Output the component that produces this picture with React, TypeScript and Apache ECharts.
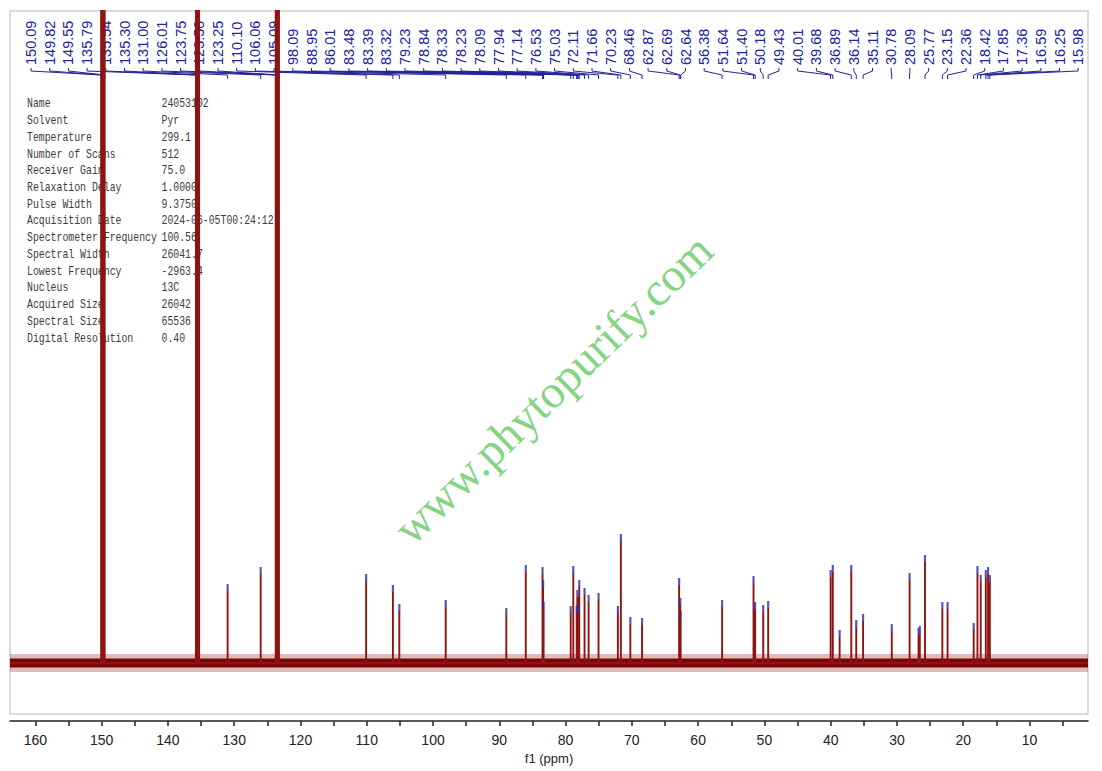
import React, { useEffect, useRef } from "react";
import * as echarts from "echarts";

// Picked 13C peaks (ppm) and their heights (px-scale intensity above baseline; solvent peaks run off-scale)
const PEAK_PPM = [
  150.09, 149.82, 149.55, 135.79, 135.54, 135.3, 131.0, 126.01, 123.75, 123.5, 123.25,
  110.1, 106.06, 105.09, 98.09, 88.95, 86.01, 83.48, 83.39, 83.32, 79.23, 78.84, 78.33,
  78.23, 78.09, 77.94, 77.14, 76.53, 75.03, 72.11, 71.66, 70.23, 68.46, 62.87, 62.69,
  62.64, 56.38, 51.64, 51.4, 50.18, 49.43, 40.01, 39.68, 36.89, 36.14, 35.11, 30.78,
  28.09, 25.77, 23.15, 22.36, 18.42, 17.85, 17.36, 16.59, 16.25, 15.98,
];
const PEAK_HEIGHT = [
  5000, 5000, 5000, 5000, 5000, 5000, 72, 89, 5000, 5000, 5000,
  82, 71, 52, 56, 48, 91, 89, 76, 54, 50, 90, 50,
  66, 50, 76, 68, 61, 63, 50, 122, 39, 38, 78, 58,
  45, 56, 80, 54, 51, 55, 86, 91, 91, 36, 42, 32,
  83, 101, 54, 54, 33, 90, 81, 86, 89, 81,
];
// Small picked peaks without a printed label
const EXTRA_PPM = [38.65, 26.74, 26.55];
const EXTRA_HEIGHT = [26, 28, 30];

const PARAM_NAMES = [
  "Name", "Solvent", "Temperature", "Number of Scans", "Receiver Gain", "Relaxation Delay",
  "Pulse Width", "Acquisition Date", "Spectrometer Frequency", "Spectral Width",
  "Lowest Frequency", "Nucleus", "Acquired Size", "Spectral Size", "Digital Resolution",
];
const PARAM_VALUES = [
  "24053102", "Pyr", "299.1", "512", "75.0", "1.0000", "9.3750", "2024-06-05T00:24:12",
  "100.56", "26041.7", "-2963.4", "13C", "26042", "65536", "0.40",
];

const PPM_LEFT = 163.84;
const PPM_RIGHT = 1.17;
const TICK_MIN = 5;
const TICK_MAX = 160;
const TICK_STEP = 5;

const App: React.FC = () => {
  const ref = useRef<HTMLDivElement>(null);

  useEffect(() => {
    if (!ref.current) return;
    const chart = echarts.init(ref.current, null, { renderer: "svg" });

    const peaks: number[][] = PEAK_PPM.map((p, i) => [p, PEAK_HEIGHT[i]])
      .concat(EXTRA_PPM.map((p, i) => [p, EXTRA_HEIGHT[i]]))
      .sort((a, b) => b[0] - a[0]);

    const spectrum: number[][] = [[PPM_LEFT, 0]];
    peaks.forEach(([p, h]) => {
      spectrum.push([p, 0], [p, h], [p, 0]);
    });
    spectrum.push([PPM_RIGHT, 0]);

    const markers = peaks.filter(([, h]) => h < 1000);

    chart.setOption({
      animation: false,
      backgroundColor: "#ffffff",
      grid: [
        { left: 10, right: 14, top: 11, bottom: 50 },
        { left: 35.43, right: 39.4, top: 11, bottom: 50 },
      ],
      xAxis: [
        {
          gridIndex: 0,
          type: "value",
          inverse: true,
          min: PPM_RIGHT,
          max: PPM_LEFT,
          axisLine: { show: true, onZero: false, lineStyle: { color: "#222", width: 1.6 } },
          axisTick: { show: false },
          axisLabel: { show: false },
          splitLine: { show: false },
        },
        {
          gridIndex: 1,
          type: "value",
          inverse: true,
          min: TICK_MIN,
          max: TICK_MAX,
          interval: TICK_STEP,
          axisLine: { show: false, onZero: false },
          axisTick: { show: true, length: 5, lineStyle: { color: "#222", width: 1.5 } },
          axisLabel: {
            show: true,
            margin: 12,
            fontSize: 14,
            color: "#222",
            fontFamily: "'Liberation Sans', Arial, sans-serif",
            formatter: (v: number) => (Math.round(v) % 10 === 0 ? String(Math.round(v)) : ""),
          },
          splitLine: { show: false },
          name: "f1 (ppm)",
          nameLocation: "middle",
          nameGap: 24,
          nameTextStyle: {
            fontSize: 13,
            color: "#222",
            fontFamily: "'Liberation Sans', Arial, sans-serif",
          },
        },
      ],
      yAxis: [
        { gridIndex: 0, type: "value", min: -58, max: 652, show: false },
        { gridIndex: 1, type: "value", min: -58, max: 652, show: false },
      ],
      series: [
        {
          type: "line",
          xAxisIndex: 0,
          yAxisIndex: 0,
          data: [[PPM_LEFT, 0], [PPM_RIGHT, 0]],
          showSymbol: false,
          silent: true,
          z: 1,
          lineStyle: { color: "rgba(130,0,0,0.26)", width: 18 },
        },
        {
          type: "line",
          xAxisIndex: 0,
          yAxisIndex: 0,
          data: [[PPM_LEFT, 0], [PPM_RIGHT, 0]],
          showSymbol: false,
          silent: true,
          z: 1,
          lineStyle: { color: "#7a0606", width: 9 },
        },
        {
          type: "line",
          xAxisIndex: 0,
          yAxisIndex: 0,
          data: spectrum,
          showSymbol: false,
          clip: true,
          silent: true,
          z: 3,
          lineStyle: { color: "#8e1414", width: 1.9, join: "miter" },
        },
        {
          type: "scatter",
          xAxisIndex: 0,
          yAxisIndex: 0,
          data: markers,
          symbol: "rect",
          symbolSize: [2.2, 7],
          symbolOffset: [0, -3.5],
          silent: true,
          z: 4,
          itemStyle: { color: "#2e2ea8" },
        },
      ],
    });

    const navy = "#23239a";
    const graphics: any[] = [];

    graphics.push({
      type: "rect",
      z: 0,
      silent: true,
      shape: { x: 10, y: 11, width: 1078, height: 703 },
      style: { fill: "none", stroke: "#d0d0d0", lineWidth: 1.5 },
    });

    PEAK_PPM.forEach((p, i) => {
      const lx = 31 + i * 18.7;
      const px = chart.convertToPixel({ xAxisIndex: 0 }, p) as number;
      graphics.push({
        type: "text",
        z: 0,
        silent: true,
        x: lx,
        y: 65,
        rotation: Math.PI / 2,
        style: {
          text: p.toFixed(2),
          fill: navy,
          font: "14.5px 'Liberation Sans', Arial, sans-serif",
          align: "left",
          verticalAlign: "middle",
        },
      });
      graphics.push({
        type: "polyline",
        z: 0,
        silent: true,
        shape: { points: [[lx, 68], [lx, 71], [px, 75], [px, 79]] },
        style: { stroke: navy, lineWidth: 1, fill: "none" },
      });
    });

    PARAM_NAMES.forEach((name, i) => {
      const y = 104 + i * 16.74;
      graphics.push({
        type: "text",
        z: 0,
        silent: true,
        x: 27,
        y,
        scaleX: 0.82,
        style: {
          text: name,
          fill: "#3c3c3c",
          font: "12px 'Liberation Mono', 'DejaVu Sans Mono', monospace",
          align: "left",
          verticalAlign: "middle",
        },
      });
      graphics.push({
        type: "text",
        z: 0,
        silent: true,
        x: 161.5,
        y,
        scaleX: 0.82,
        style: {
          text: PARAM_VALUES[i],
          fill: "#3c3c3c",
          font: "12px 'Liberation Mono', 'DejaVu Sans Mono', monospace",
          align: "left",
          verticalAlign: "middle",
        },
      });
    });

    graphics.push({
      type: "text",
      z: 10,
      silent: true,
      x: 553,
      y: 389,
      rotation: (44 * Math.PI) / 180,
      style: {
        text: "www.phytopurify.com",
        fill: "#84d482",
        font: "47px 'Liberation Serif', 'Times New Roman', serif",
        align: "center",
        verticalAlign: "middle",
      },
    });

    chart.setOption({ graphic: graphics });

    return () => {
      chart.dispose();
    };
  }, []);

  return (
    <div
      ref={ref}
      style={{ position: "absolute", left: 0, top: 0, width: 1102, height: 771, background: "#fff" }}
    />
  );
};

export default App;
